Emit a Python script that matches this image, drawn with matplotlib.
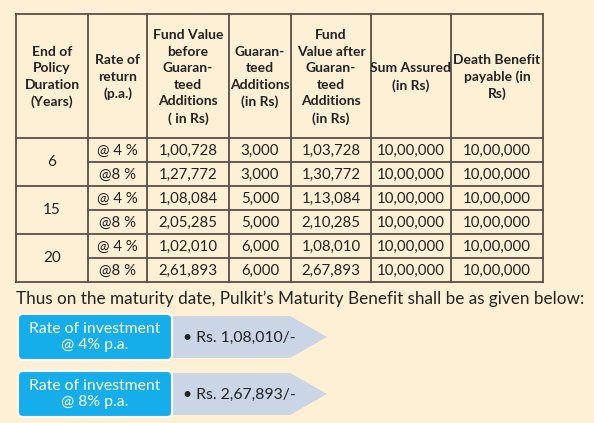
import matplotlib.pyplot as plt
from matplotlib.patches import FancyBboxPatch, Polygon

plt.rcParams['font.family'] = ['Lato', 'DejaVu Sans']

headers = ["End of\nPolicy\nDuration\n(Years)", "Rate of\nreturn\n(p.a.)",
           "Fund Value\nbefore\nGuaran-\nteed\nAdditions\n( in Rs)",
           "Guaran-\nteed\nAdditions\n(in Rs)",
           "Fund\nValue after\nGuaran-\nteed\nAdditions\n(in Rs)",
           "Sum Assured\n(in Rs)", "Death Benefit\npayable (in\nRs)"]
durations = ["6", "15", "20"]
rates = ["@ 4 %", "@8 %", "@ 4 %", "@8 %", "@ 4 %", "@8 %"]
fund_before = ["1,00,728", "1,27,772", "1,08,084", "2,05,285", "1,02,010", "2,61,893"]
guaranteed = ["3,000", "3,000", "5,000", "5,000", "6,000", "6,000"]
fund_after = ["1,03,728", "1,30,772", "1,13,084", "2,10,285", "1,08,010", "2,67,893"]
sum_assured = ["10,00,000"] * 6
death_benefit = ["10,00,000"] * 6
summary_labels = ["Rate of investment\n@ 4% p.a.", "Rate of investment\n@ 8% p.a."]
summary_values = ["• Rs. 1,08,010/-", "• Rs. 2,67,893/-"]

bg = "#FEF0D4"
fig = plt.figure(figsize=(5.94, 4.23), dpi=100, facecolor=bg)
ax = fig.add_axes([0, 0, 1, 1])
ax.set_xlim(0, 594)
ax.set_ylim(423, 0)
ax.axis("off")

cols = [16, 88, 147, 229, 291, 371, 451, 543]
top, hbot = 14, 138
rh = 24
rows = [hbot + i * rh for i in range(7)]
lc = "#5a5048"
lw = 1.3

# outer and vertical lines
for x in cols:
    ax.plot([x, x], [top, rows[-1]], color=lc, lw=lw)
ax.plot([cols[0], cols[-1]], [top, top], color=lc, lw=lw)
for i, y in enumerate(rows):
    x0 = cols[0] if i % 2 == 0 else cols[1]
    ax.plot([x0, cols[-1]], [y, y], color=lc, lw=lw)

for j, h in enumerate(headers):
    ax.text((cols[j] + cols[j + 1]) / 2, (top + hbot) / 2 + 1, h, ha="center", va="center",
            fontsize=10, fontweight="bold", color="#222222", linespacing=1.45)

for g, d in enumerate(durations):
    ax.text((cols[0] + cols[1]) / 2, rows[2 * g] + rh, d, ha="center", va="center",
            fontsize=11, color="#222222")

table_cols = [rates, fund_before, guaranteed, fund_after, sum_assured, death_benefit]
for j, col in enumerate(table_cols, start=1):
    for i, v in enumerate(col):
        ax.text((cols[j] + cols[j + 1]) / 2, rows[i] + rh / 2 + 1, v, ha="center", va="center",
                fontsize=10.8, color="#222222")

ax.text(16, 299, "Thus on the maturity date, Pulkit’s Maturity Benefit shall be as given below:",
        ha="left", va="center", fontsize=12.3, color="#222222")

for k, (lab, val) in enumerate(zip(summary_labels, summary_values)):
    yc = 337 + k * 57
    arrow = Polygon([[170, yc - 21], [290, yc - 21], [327, yc], [290, yc + 21], [170, yc + 21]],
                    closed=True, facecolor="#CAD5E6", edgecolor="none")
    ax.add_patch(arrow)
    box = FancyBboxPatch((18, yc - 23), 154, 46, boxstyle="round,pad=0,rounding_size=5",
                         facecolor="#16AEEA", edgecolor="white", lw=1.5)
    ax.add_patch(box)
    ax.text(95, yc, lab, ha="center", va="center", fontsize=11.3, color="white", linespacing=1.2)
    ax.text(183, yc + 1, val, ha="left", va="center", fontsize=11.3, color="#222222")

fig.savefig("out.png", dpi=100, facecolor=bg)
